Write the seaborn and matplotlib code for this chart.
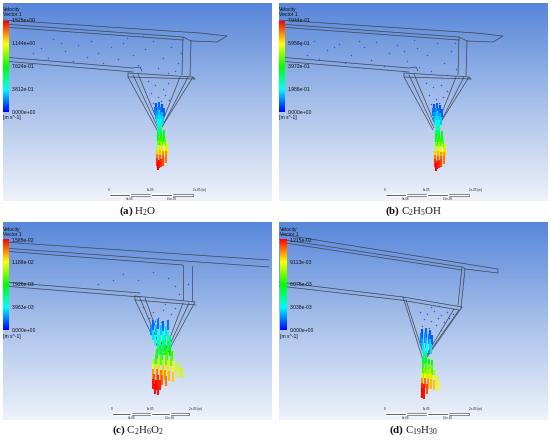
import numpy as np
import pandas as pd
import matplotlib
matplotlib.use("Agg")
import matplotlib.pyplot as plt
import seaborn as sns
from matplotlib.colors import LinearSegmentedColormap

sns.set_theme(style="white")
plt.rcParams['font.family'] = ['Liberation Sans', 'DejaVu Sans']
plt.rcParams['mathtext.fontset'] = 'custom'
plt.rcParams['mathtext.rm'] = 'Liberation Serif'
plt.rcParams['mathtext.bf'] = 'Liberation Serif:bold'

# ---------------- data ----------------
caption_tags = ["(a)", "(b)", "(c)", "(d)"]
caption_names = [r"H$_\mathrm{2}$O", r"C$_\mathrm{2}$H$_\mathrm{5}$OH",
                 r"C$_\mathrm{2}$H$_\mathrm{6}$O$_\mathrm{2}$", r"C$_\mathrm{19}$H$_\mathrm{30}$"]
legend_a = ["1.525e+00", "1.144e+00", "7.624e-01", "3.812e-01", "0.000e+00"]
legend_b = ["7.944e-01", "5.958e-01", "3.972e-01", "1.986e-01", "0.000e+00"]
legend_c = ["1.585e-02", "1.189e-02", "7.926e-03", "3.963e-03", "0.000e+00"]
legend_d = ["1.215e-02", "9.113e-03", "6.075e-03", "3.038e-03", "0.000e+00"]
scale_top = ["0", "1e-05", "2e-05 (m)"]
scale_bottom = ["5e-06", "1.5e-05"]

# geometry outlines (panel pixel coordinates)
geom_ab = [
    [(0, 17), (197, 30), (224, 33), (214, 39), (188, 38)],
    [(0, 21), (180, 34), (188, 38)],
    [(0, 24), (180, 37)],
    [(180, 34), (179, 72)],
    [(188, 38), (187, 73)],
    [(0, 54), (130, 65), (137, 64), (139, 68)],
    [(0, 58), (130, 69)],
    [(125, 70), (190, 74), (192, 76)],
    [(125, 70), (125, 74), (192, 76)],
    [(125, 74), (154, 127)],
    [(130, 72), (155, 125)],
    [(135, 71), (157, 124)],
    [(177, 74), (157, 125)],
    [(185, 74), (159, 124)],
    [(190, 74), (160, 122)],
]
geom_c = [
    [(0, 20), (266, 38)],
    [(0, 26), (266, 45)],
    [(0, 29), (180, 43)],
    [(180, 43), (180, 78)],
    [(189, 44), (189, 79)],
    [(0, 60), (137, 71)],
    [(0, 64), (137, 75)],
    [(132, 74), (192, 80)],
    [(132, 74), (132, 78), (193, 83)],
    [(132, 78), (159, 134)],
    [(137, 76), (160, 132)],
    [(142, 76), (162, 131)],
    [(180, 81), (161, 132)],
    [(186, 81), (163, 131)],
    [(192, 80), (165, 130)],
]
geom_d = [
    [(0, 12), (219, 47), (219, 51), (186, 47)],
    [(0, 17), (183, 45), (186, 47)],
    [(0, 20), (183, 48)],
    [(183, 45), (179, 83)],
    [(186, 47), (182, 86)],
    [(0, 60), (124, 75)],
    [(0, 64), (122, 78)],
    [(124, 75), (183, 85)],
    [(122, 78), (180, 88)],
    [(124, 75), (144, 138)],
    [(127, 78), (146, 137)],
    [(183, 85), (146, 138)],
    [(180, 88), (144, 139)],
    [(175, 87), (145, 137)],
]

# velocity vectors of the jet: (x, y, speed as fraction of max)
plume_a = [(153,104,.08),(156,103,.1),(159,105,.08),(152,108,.12),(155,108,.15),(158,108,.12),(161,109,.1),
           (153,112,.15),(156,112,.2),(159,113,.18),(154,116,.2),(157,116,.22),(160,117,.2),(155,120,.25),
           (158,120,.28),(156,123,.3),(158,124,.32),(157,127,.35),(155,130,.4),(158,130,.42),(161,131,.45),
           (155,134,.48),(158,134,.5),(161,135,.5),(156,138,.55),(159,138,.55),(162,139,.58),(155,142,.62),
           (158,142,.65),(161,143,.68),(164,144,.7),(155,146,.7),(158,147,.72),(161,147,.75),(164,148,.78),
           (154,151,.8),(157,151,.82),(160,152,.85),(163,152,.85),(154,155,.88),(157,156,.9),(160,156,.9),
           (163,156,.88),(154,159,.95),(156,161,.98),(158,160,.96),(155,163,1.0),(160,159,.93)]
plume_b = [(155,105,.08),(158,104,.1),(161,106,.08),(154,109,.12),(157,109,.15),(160,109,.12),(163,110,.1),
           (155,113,.15),(158,113,.2),(161,114,.18),(156,117,.2),(159,117,.22),(162,118,.2),(157,121,.25),
           (160,121,.28),(158,124,.3),(160,125,.32),(159,128,.35),(157,131,.4),(160,131,.42),(163,132,.45),
           (157,135,.48),(160,135,.5),(163,136,.5),(158,139,.55),(161,139,.55),(164,140,.58),(157,143,.62),
           (160,143,.65),(163,144,.68),(166,145,.7),(157,147,.7),(160,148,.72),(163,148,.75),(166,149,.78),
           (156,152,.8),(159,152,.82),(162,153,.85),(165,153,.85),(156,156,.88),(159,157,.9),(162,157,.9),
           (165,157,.88),(156,160,.95),(158,162,.98),(160,161,.96),(157,164,1.0),(162,160,.93)]
plume_c = [(150,103,.1),(155,102,.12),(160,104,.1),(165,103,.12),(148,108,.15),(153,108,.18),(158,108,.2),
           (163,109,.22),(150,113,.22),(155,113,.25),(160,114,.28),(165,114,.3),(152,118,.28),(157,118,.3),
           (162,119,.35),(167,119,.38),(155,123,.35),(160,123,.4),(165,124,.42),(157,128,.45),(162,128,.48),
           (167,129,.5),(154,132,.5),(159,133,.52),(164,133,.55),(169,134,.55),(153,137,.55),(158,138,.58),
           (163,138,.6),(168,139,.6),(151,142,.65),(156,142,.68),(161,143,.7),(166,143,.72),(171,144,.72),
           (176,145,.7),(150,147,.75),(155,147,.78),(160,148,.8),(165,148,.78),(170,149,.75),(175,150,.72),
           (179,151,.7),(150,152,.85),(154,152,.88),(158,153,.88),(162,153,.85),(166,154,.82),(170,155,.8),
           (151,157,.92),(155,158,.95),(159,158,.9),(163,159,.88),(150,162,.98),(153,163,1.0),(157,163,.97),
           (152,167,1.0),(155,168,.98)]
plume_d = [(143,112,.08),(147,111,.1),(151,113,.08),(142,116,.12),(146,116,.15),(150,117,.12),(153,118,.1),
           (143,121,.15),(147,121,.18),(151,122,.2),(144,126,.22),(148,126,.25),(152,127,.22),(145,131,.3),
           (147,134,.35),(145,137,.38),(144,141,.45),(147,141,.48),(150,142,.5),(153,143,.52),(144,146,.55),
           (147,146,.58),(150,147,.6),(153,148,.58),(145,151,.62),(148,151,.65),(151,152,.68),(155,153,.65),
           (143,156,.72),(146,156,.75),(149,157,.78),(152,157,.78),(155,158,.75),(158,159,.72),(143,161,.85),
           (146,161,.88),(149,162,.85),(152,162,.82),(155,163,.8),(159,164,.75),(143,166,.95),(145,167,.98),
           (148,167,.92),(143,171,1.0),(145,172,.98)]

# slow particles (x, y)
dots_a = [(25,40),(38,45),(50,36),(62,48),(75,42),(88,38),(95,50),(108,44),(120,40),(130,52),(142,46),
          (150,38),(160,55),(168,44),(175,60),(178,50),(45,55),(70,58),(100,60),(115,56),(135,62),(155,65),
          (165,70),(172,68),(145,78),(152,82),(160,86),(165,80),(148,90),(155,94),(162,92),(158,98),
          (150,100),(166,97),(30,50),(58,40),(84,54),(124,35),(140,33),(170,36)]
dots_b = [(22,42),(35,38),(48,47),(60,41),(72,52),(85,44),(97,39),(110,50),(118,42),(128,58),(138,45),
          (148,52),(158,40),(165,60),(172,48),(177,66),(40,56),(66,60),(92,57),(105,63),(140,64),(152,68),
          (168,72),(147,80),(154,84),(162,82),(168,88),(150,92),(157,96),(164,94),(160,100),(152,101),
          (28,52),(55,44),(80,38),(125,48),(135,37),(176,40)]
dots_c = [(120,52),(135,58),(150,50),(165,56),(172,64),(176,72),(185,62),(140,85),(150,90),(160,88),
          (168,92),(155,96),(146,96),(162,82),(172,86),(178,78),(152,99),(158,100),(165,98),(148,104),
          (110,58),(95,62)]
dots_d = [(141,90),(148,92),(155,89),(162,93),(168,90),(145,97),(152,99),(159,96),(165,100),(143,104),
          (150,106),(157,103),(162,108),(146,110),(170,96),(174,92),(160,84),(152,85)]

panel_px = [(3, 3), (279, 3), (3, 222), (279, 222)]
panel_size = (269, 198)
geoms = [geom_ab, geom_ab, geom_c, geom_d]
plumes = [plume_a, plume_b, plume_c, plume_d]
dots = [dots_a, dots_b, dots_c, dots_d]
legends = [legend_a, legend_b, legend_c, legend_d]
cbar_boxes = [(0, 6, 18, 109), (0, 6, 18, 109), (0, 6, 18, 108), (1, 8, 18, 108)]
scale_bars = [(106, 84), (106, 84), (109, 77), (106, 84)]
plume_sizes = [40, 40, 55, 45]

# ---------------- drawing ----------------
W, H = 550, 440
fig = plt.figure(figsize=(5.5, 4.4), dpi=100)
fig.patch.set_facecolor("white")

rainbow = LinearSegmentedColormap.from_list(
    "ansys", ["#0000ff", "#00ffff", "#00ff00", "#ffff00", "#ff0000"])
bgmap = LinearSegmentedColormap.from_list("bg", ["#5786da", "#a6bfea", "#eef2fa"])

for i in range(4):
    px, py = panel_px[i]
    pw, ph = panel_size
    ax = fig.add_axes([px / W, 1 - (py + ph) / H, pw / W, ph / H])
    ax.imshow(np.linspace(0, 1, 256)[:, None], cmap=bgmap, aspect="auto",
              extent=(0, pw, ph, 0), origin="upper", zorder=0)

    rows = []
    for k, seg in enumerate(geoms[i]):
        for j, (x, y) in enumerate(seg):
            rows.append({"seg": k, "order": j, "x": x, "y": y})
    gdf = pd.DataFrame(rows)
    sns.lineplot(data=gdf, x="x", y="y", units="seg", estimator=None, sort=False,
                 color="#3d4352", lw=0.5, legend=False, ax=ax, zorder=2)

    ddf = pd.DataFrame(dots[i], columns=["x", "y"])
    sns.scatterplot(data=ddf, x="x", y="y", color="#3158e6", s=1.1, linewidth=0,
                    marker="o", legend=False, ax=ax, zorder=3)

    pdf = pd.DataFrame(plumes[i], columns=["x", "y", "v"])
    sns.scatterplot(data=pdf, x="x", y="y", hue="v", palette=rainbow, hue_norm=(0, 1),
                    marker="|", s=plume_sizes[i], linewidth=1.5, legend=False, ax=ax, zorder=4)

    # colour legend
    x0, x1, y0, y1 = cbar_boxes[i]
    ax.imshow(np.linspace(1, 0, 256)[:, None], cmap=rainbow, aspect="auto",
              extent=(x0, x1, y1, y0), origin="upper", zorder=5)
    ax.text(x0, 7, "Velocity", fontsize=3.6, va="center", ha="left", color="#111111")
    ax.text(x0, 12, "Vector 1", fontsize=3.6, va="center", ha="left", color="#111111")
    for k, lab in enumerate(legends[i]):
        yy = y0 + (y1 - y0) * k / 4
        ax.text(x1 + 3, yy, lab, fontsize=3.6, va="center", ha="left", color="#111111")
    ax.text(x0, y1 + 6, "[m s^-1]", fontsize=3.6, va="center", ha="left", color="#111111")

    # scale bar
    sx, sl = scale_bars[i]
    by = 192
    ax.broken_barh([(sx, sl)], (by - 1.4, 2.8), facecolors="white", edgecolors="#333333",
                   linewidth=0.4, zorder=5)
    ax.broken_barh([(sx, sl / 4), (sx + sl / 2, sl / 4)], (by - 1.4, 2.8),
                   facecolors="black", zorder=6)
    for k, lab in enumerate(scale_top):
        ax.text(sx + sl * k / 2, by - 3.4, lab, fontsize=2.2, ha="left" if k == 2 else "center",
                va="bottom", color="#222222")
    for k, lab in enumerate(scale_bottom):
        ax.text(sx + sl / 4 + sl * k / 2, by + 2.4, lab, fontsize=2.2, ha="center", va="top",
                color="#222222", clip_on=False)

    ax.set_xlim(0, pw)
    ax.set_ylim(ph, 0)
    ax.axis("off")

    cx = (px + pw / 2) / W
    cy = 1 - (py + ph + 10) / H
    fig.text(cx, cy, r"$\mathbf{" + caption_tags[i] + "}$ " + caption_names[i],
             fontsize=7.8, ha="center", va="center", family="Liberation Serif", color="#111111")

fig.savefig("out.png", dpi=100, facecolor="white")
